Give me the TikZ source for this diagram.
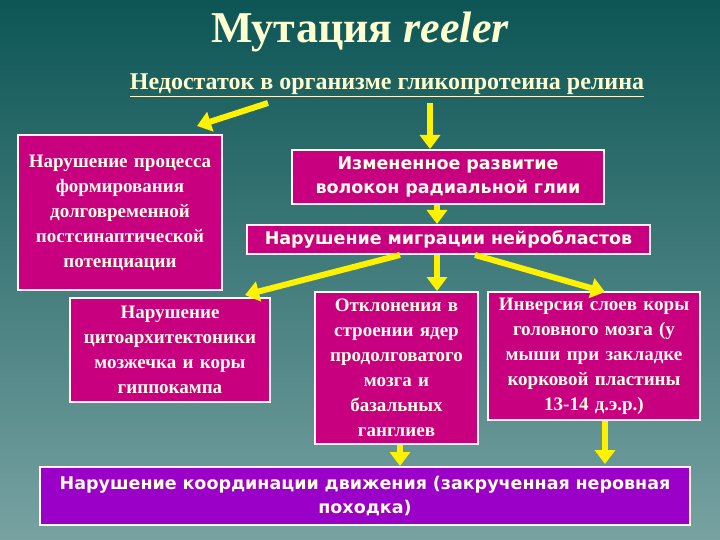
\documentclass[tikz,border=0pt]{standalone}
\usepackage{fontspec}
\setmainfont{Liberation Serif}
\newfontfamily\dvs{DejaVu Sans}
\usetikzlibrary{arrows.meta}
\definecolor{mag}{HTML}{C8007F}
\definecolor{vio}{HTML}{9A00C8}
\definecolor{cream}{HTML}{FFFFD0}
\begin{document}
\begin{tikzpicture}[x=1pt,y=-1pt,
  bx/.style={draw=white!85!pink,line width=2pt,fill=mag,text=white!90!yellow,align=center,inner sep=0pt},
  ser/.style={font=\bfseries\fontsize{19}{25}\selectfont},
  sans/.style={font=\dvs\bfseries\fontsize{17.5}{24}\selectfont},
  ar/.style={draw=yellow,line width=6pt,-{Triangle[width=20pt,length=14pt]}}]
\shade[top color=teal!60!black!95,bottom color=teal!55!white!60!gray] (0,0) rectangle (720,540);
\useasboundingbox (0,0) rectangle (720,540);
\node[text=cream,font=\bfseries\fontsize{44}{48}\selectfont] (t) at (360,32) {Мутация \textit{reeler}};
\node[text=cream,font=\bfseries\fontsize{24}{26}\selectfont] (s) at (387,85) {\underline{Недостаток в организме гликопротеина релина}};
\node[bx,ser,minimum width=204,minimum height=155,text width=200] (b1) at (120,212.5) {Нарушение процесса\\формирования\\долговременной\\постсинаптической\\потенциации\\[22pt]};
\node[bx,sans,minimum width=312,minimum height=54,text width=310] (b2) at (448,177) {Измененное развитие\\волокон радиальной глии};
\node[bx,sans,minimum width=403,minimum height=29,text width=400] (b3) at (448.5,239.5) {Нарушение миграции нейробластов};
\node[bx,ser,minimum width=200,minimum height=104,text width=198] (b4) at (170,350) {Нарушение\\цитоархитектоники\\мозжечка и коры\\гиппокампа\\[10pt]};
\node[bx,ser,minimum width=163,minimum height=152,text width=162] (b5) at (396.5,368) {Отклонения в\\строении ядер\\продолговатого\\мозга и\\базальных\\ганглиев};
\node[bx,ser,minimum width=212,minimum height=128,text width=210] (b6) at (594,356) {Инверсия слоев коры\\головного мозга (у\\мыши при закладке\\корковой пластины\\13-14 д.э.р.)\\[6pt]};
\node[bx,fill=vio,sans,minimum width=650,minimum height=58,text width=648] (b7) at (365,496) {Нарушение координации движения (закрученная неровная\\походка)};
\coordinate (a1) at (268,103); \coordinate (a2) at (430,103);
\draw[ar] (a1) -- (197,126);
\draw[ar] (a2) -- (b2.north -| a2);
\draw[ar] (b2.south -| 437,0) -- (b3.north -| 437,0);
\draw[ar] (b3.south -| 400,0) -- (245,295);
\draw[ar] (b3.south -| 437,0) -- (b5.north -| 437,0);
\draw[ar] (b3.south -| 475,0) -- (605,292);
\draw[ar] (b5.south -| 400,0) -- (b7.north -| 400,0);
\draw[ar] (b6.south -| 605,0) -- (605,464);
\end{tikzpicture}
\end{document}
